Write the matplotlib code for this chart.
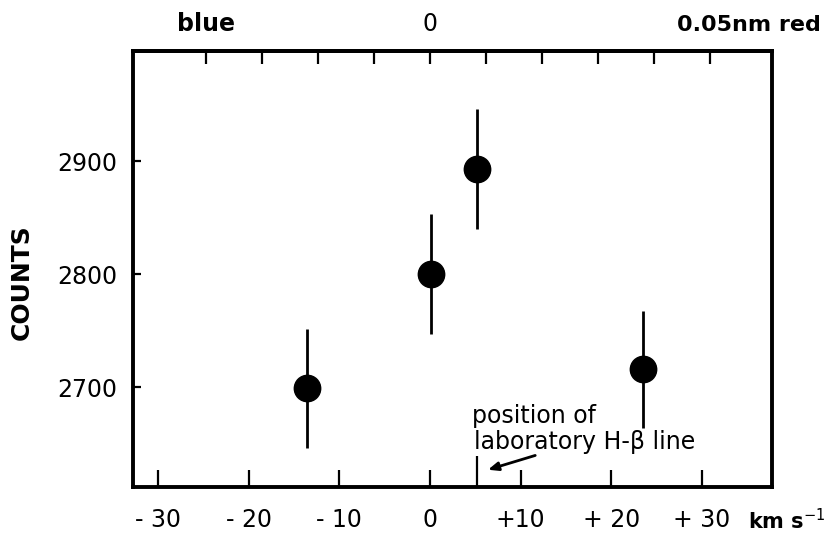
import matplotlib
matplotlib.use("Agg")
import matplotlib.pyplot as plt

# measured points (velocity km/s, counts, +/- error)
velocity = [-13.6, 0.1, 5.2, 23.5]
counts = [2699, 2800, 2893, 2716]
count_err = [53, 53, 53, 52]

lab_hbeta = 5.2  # position of laboratory H-beta line, km/s

x_ticks = [-30, -20, -10, 0, 10, 20, 30]
x_tick_labels = ["- 30", "- 20", "- 10", "0", "+10", "+ 20", "+ 30"]
y_ticks = [2700, 2800, 2900]

# top axis: wavelength offset in nm
top_ticks = [-0.04, -0.03, -0.02, -0.01, 0.0, 0.01, 0.02, 0.03, 0.04, 0.05]
top_labels = ["blue", "", "", "", "0", "", "", "", "", ""]

HBETA_NM = 486.13
C_KMS = 299792.458


def kms_to_nm(v):
    return v * HBETA_NM / C_KMS


def nm_to_kms(d):
    return d * C_KMS / HBETA_NM


plt.rcParams["font.family"] = ["DejaVu Sans"]

fig = plt.figure(figsize=(8.26, 5.33), dpi=100)
ax = fig.add_axes([0.161, 0.086, 0.774, 0.818])

ax.errorbar(velocity, counts, yerr=count_err, fmt="o", color="black",
            markersize=19, elinewidth=2, capsize=0)

ax.set_xlim(-32.75, 37.75)
ax.set_ylim(2611.6, 2997.6)

for s in ax.spines.values():
    s.set_linewidth(2.8)

ax.set_xticks(x_ticks, x_tick_labels)
ax.set_yticks(y_ticks)
ax.tick_params(axis="x", direction="in", length=12, width=1.6,
               labelsize=17, pad=15)
ax.tick_params(axis="y", direction="in", length=6, width=1.6,
               labelsize=17, pad=11)
ax.set_xticks([lab_hbeta], minor=True)
ax.tick_params(axis="x", which="minor", direction="in", length=22, width=1.6)

top = ax.secondary_xaxis("top", functions=(kms_to_nm, nm_to_kms))
top.set_xticks(top_ticks, top_labels)
top.tick_params(direction="in", length=9.5, width=1.6, labelsize=17, pad=11)
top.get_xticklabels()[0].set_fontweight("bold")
top.spines["top"].set_linewidth(2.8)

# "0.05nm red" label, its "0.05" over the 0.05 nm tick
ax.text(nm_to_kms(0.05) - 3.6, 1.046, "0.05nm red", transform=ax.get_xaxis_transform(),
        fontsize=16, fontweight="bold", ha="left", va="baseline")

fig.text(22 / 826, 1 - 282 / 533, "COUNTS", rotation=90, fontsize=18,
         fontweight="bold", ha="center", va="center")

fig.text(748 / 826, 1 - 521 / 533, "km s$^{-1}$", fontsize=15,
         fontweight="bold", ha="left", va="center")

ax.text(4.65, 2668.8, "position of", fontsize=17, va="baseline")
ax.text(4.8, 2645.8, "laboratory H\u2010\u03b2 line", fontsize=17, va="baseline")
ax.annotate("", xy=(6.1, 2626.3), xytext=(11.9, 2640.4),
            arrowprops=dict(arrowstyle="-|>,head_length=0.6,head_width=0.25",
                            color="black", lw=2))

fig.savefig("out.png", dpi=100)
